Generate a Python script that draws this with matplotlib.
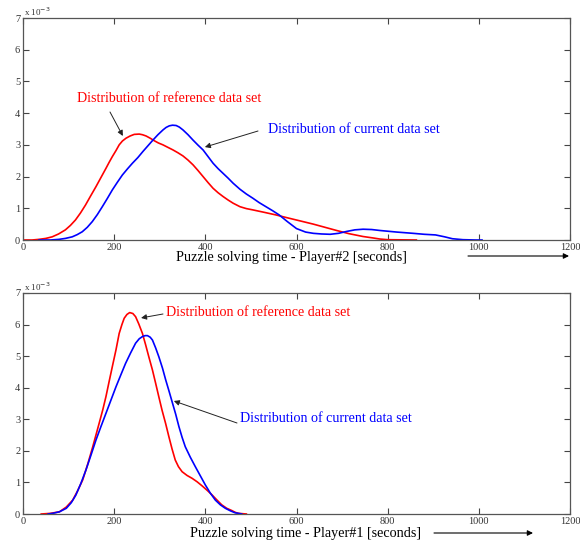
import matplotlib
matplotlib.use("Agg")
import matplotlib.pyplot as plt

# ---- data (density values in units of 1e-3) ----
top_ref_x = [0, 20, 35, 50, 64, 78, 93, 104, 115, 126, 137, 148, 160, 171, 182, 189, 196, 204, 211, 218, 226, 235, 244, 255, 262, 270, 279, 288, 297, 307, 318, 329, 340, 351, 362, 373, 384, 395, 406, 417, 428, 439, 450, 461, 476, 490, 504, 530, 555, 580, 600, 620, 637, 660, 688, 715, 746, 770, 783, 800, 863]
top_ref_y = [0.0, 0.0, 0.02, 0.05, 0.1, 0.19, 0.32, 0.46, 0.63, 0.85, 1.1, 1.38, 1.68, 1.97, 2.26, 2.45, 2.63, 2.82, 3.0, 3.12, 3.21, 3.28, 3.33, 3.34, 3.32, 3.28, 3.21, 3.13, 3.06, 3.0, 2.92, 2.84, 2.75, 2.65, 2.52, 2.37, 2.19, 2.0, 1.81, 1.63, 1.49, 1.37, 1.26, 1.16, 1.05, 0.99, 0.95, 0.87, 0.79, 0.7, 0.63, 0.56, 0.5, 0.41, 0.3, 0.2, 0.11, 0.06, 0.03, 0.01, 0.0]

top_cur_x = [35, 60, 79, 93, 108, 119, 130, 141, 152, 163, 174, 185, 196, 207, 218, 229, 240, 252, 263, 274, 285, 296, 307, 314, 321, 328, 336, 343, 351, 362, 373, 384, 395, 406, 417, 428, 439, 450, 461, 476, 490, 504, 518, 533, 548, 562, 580, 600, 620, 637, 655, 674, 692, 710, 728, 746, 765, 783, 820, 856, 880, 905, 925, 942, 965, 993, 1007]
top_cur_y = [0.0, 0.0, 0.02, 0.05, 0.1, 0.17, 0.26, 0.4, 0.58, 0.8, 1.05, 1.31, 1.58, 1.82, 2.05, 2.24, 2.42, 2.6, 2.79, 2.97, 3.15, 3.32, 3.47, 3.55, 3.6, 3.62, 3.61, 3.56, 3.47, 3.32, 3.15, 2.99, 2.84, 2.63, 2.42, 2.25, 2.1, 1.95, 1.79, 1.6, 1.45, 1.32, 1.18, 1.05, 0.92, 0.79, 0.58, 0.36, 0.25, 0.21, 0.19, 0.18, 0.21, 0.27, 0.32, 0.34, 0.33, 0.3, 0.25, 0.21, 0.18, 0.16, 0.1, 0.04, 0.01, 0.0, 0.0]

bot_ref_x = [40, 60, 80, 95, 109, 120, 131, 142, 153, 160, 167, 175, 182, 189, 196, 204, 211, 217, 222, 228, 234, 241, 247, 254, 262, 269, 276, 284, 291, 298, 305, 313, 320, 327, 334, 341, 349, 360, 371, 382, 393, 404, 415, 425, 436, 447, 458, 466, 473, 490]
bot_ref_y = [0.0, 0.02, 0.07, 0.22, 0.44, 0.74, 1.08, 1.58, 2.13, 2.5, 2.87, 3.3, 3.72, 4.2, 4.67, 5.2, 5.72, 6.0, 6.2, 6.32, 6.38, 6.35, 6.25, 6.02, 5.72, 5.36, 4.98, 4.56, 4.14, 3.71, 3.29, 2.86, 2.45, 2.06, 1.71, 1.5, 1.34, 1.22, 1.13, 1.02, 0.89, 0.75, 0.6, 0.45, 0.29, 0.18, 0.11, 0.05, 0.02, 0.0]

bot_cur_x = [55, 65, 80, 95, 106, 116, 127, 138, 149, 160, 171, 182, 193, 204, 215, 225, 236, 247, 255, 262, 268, 273, 279, 284, 291, 298, 306, 313, 320, 327, 335, 342, 349, 356, 367, 378, 389, 400, 411, 422, 433, 444, 455, 465, 480]
bot_cur_y = [0.0, 0.02, 0.07, 0.18, 0.36, 0.6, 0.97, 1.39, 1.86, 2.34, 2.77, 3.19, 3.61, 4.03, 4.42, 4.77, 5.1, 5.41, 5.55, 5.62, 5.65, 5.65, 5.6, 5.51, 5.26, 4.98, 4.62, 4.25, 3.91, 3.56, 3.16, 2.77, 2.43, 2.13, 1.8, 1.5, 1.21, 0.92, 0.66, 0.44, 0.29, 0.18, 0.1, 0.04, 0.0]

x_ticks = [0, 200, 400, 600, 800, 1000, 1200]
y_ticks = [0, 1, 2, 3, 4, 5, 6, 7]

xlabels = ["Puzzle solving time - Player#2 [seconds]", "Puzzle solving time - Player#1 [seconds]"]
ref_text = "Distribution of reference data set"
cur_text = "Distribution of current data set"

SERIF = ["Liberation Serif", "DejaVu Serif"]

fig = plt.figure(figsize=(5.8, 5.41), dpi=100)
fig.patch.set_facecolor("white")

W, H = 580.0, 541.0
def ax_rect(l, t, r, b):
    return [l / W, 1 - b / H, (r - l) / W, (b - t) / H]

ax1 = fig.add_axes(ax_rect(23, 18, 570, 240))
ax2 = fig.add_axes(ax_rect(23, 293, 570, 514))

def style(ax):
    ax.set_xlim(0, 1200)
    ax.set_ylim(0, 7)
    ax.set_xticks(x_ticks)
    ax.set_yticks(y_ticks)
    ax.set_xticklabels([str(v) for v in x_ticks], fontfamily=SERIF, fontsize=7.5)
    ax.set_yticklabels([str(v) for v in y_ticks], fontfamily=SERIF, fontsize=7.5)
    ax.tick_params(direction="in", length=4, width=0.8, top=True, right=True,
                   color="#444444", labelcolor="#333333", pad=2)
    for s in ax.spines.values():
        s.set_color("#555555")
        s.set_linewidth(0.9)
    ax.set_facecolor("white")

style(ax1)
style(ax2)

ax1.plot(top_ref_x, top_ref_y, color="red", lw=1.2)
ax1.plot(top_cur_x, top_cur_y, color="blue", lw=1.2)
ax2.plot(bot_ref_x, bot_ref_y, color="red", lw=1.2)
ax2.plot(bot_cur_x, bot_cur_y, color="blue", lw=1.2)

arrow = dict(arrowstyle="-|>", color="#222222", lw=0.7, mutation_scale=8, shrinkA=0, shrinkB=0)

# top annotations
ax1.text(77 / W, 1 - 98 / H, ref_text, transform=fig.transFigure, color="red",
         fontfamily=SERIF, fontsize=10.1, va="center", ha="left")
ax1.annotate("", xy=(219, 3.28), xytext=(110 / W, 1 - 112 / H), textcoords=fig.transFigure,
             arrowprops=arrow)
ax1.text(268 / W, 1 - 130 / H, cur_text, transform=fig.transFigure, color="blue",
         fontfamily=SERIF, fontsize=10.1, va="center", ha="left")
ax1.annotate("", xy=(399, 2.93), xytext=(258 / W, 1 - 131 / H), textcoords=fig.transFigure,
             arrowprops=arrow)

# bottom annotations
ax2.text(166 / W, 1 - 313 / H, ref_text, transform=fig.transFigure, color="red",
         fontfamily=SERIF, fontsize=10.1, va="center", ha="left")
ax2.annotate("", xy=(259, 6.21), xytext=(163 / W, 1 - 314 / H), textcoords=fig.transFigure,
             arrowprops=arrow)
ax2.text(240 / W, 1 - 418 / H, cur_text, transform=fig.transFigure, color="blue",
         fontfamily=SERIF, fontsize=10.1, va="center", ha="left")
ax2.annotate("", xy=(331, 3.58), xytext=(237 / W, 1 - 423 / H), textcoords=fig.transFigure,
             arrowprops=arrow)

# x labels with arrows
fig.text(291 / W, 1 - 258 / H, xlabels[0], fontfamily=SERIF, fontsize=10.2, ha="center", va="center")
fig.text(305 / W, 1 - 533 / H, xlabels[1], fontfamily=SERIF, fontsize=10.2, ha="center", va="center")
axarrow = dict(arrowstyle="-|>", color="black", lw=0.8, mutation_scale=8, shrinkA=0, shrinkB=0)
ax1.annotate("", xy=(569 / W, 1 - 256 / H), xytext=(468 / W, 1 - 256 / H),
             xycoords=fig.transFigure, textcoords=fig.transFigure, arrowprops=axarrow, annotation_clip=False)
ax2.annotate("", xy=(533 / W, 1 - 533 / H), xytext=(434 / W, 1 - 533 / H),
             xycoords=fig.transFigure, textcoords=fig.transFigure, arrowprops=axarrow, annotation_clip=False)

# exponent labels
fig.text(24 / W, 1 - 12 / H, r"x 10$^{-3}$", fontfamily=SERIF, fontsize=6.5, ha="left", va="center", color="#333333")
fig.text(24 / W, 1 - 287 / H, r"x 10$^{-3}$", fontfamily=SERIF, fontsize=6.5, ha="left", va="center", color="#333333")

fig.savefig("out.png", dpi=100, facecolor="white")
